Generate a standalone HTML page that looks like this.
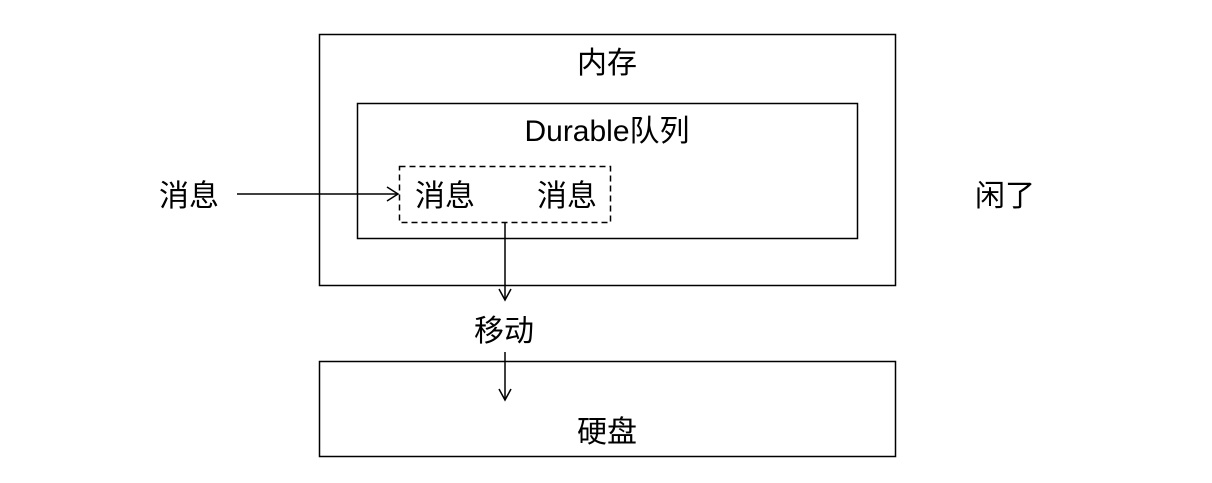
<!DOCTYPE html>
<html><head><meta charset="utf-8"><style>
body{margin:0;background:#fff;}
svg text{font-family:"Liberation Sans","Noto Sans CJK SC",sans-serif;font-size:30px;fill:#000;text-anchor:middle;}
</style></head><body>
<svg width="1212" height="478" xmlns="http://www.w3.org/2000/svg">
<g fill="none" stroke="#000" stroke-width="1.5">
<rect x="319.5" y="34.5" width="576" height="251"/>
<rect x="357.5" y="103.5" width="500" height="135"/>
<rect x="399.5" y="166.5" width="211" height="56" stroke-dasharray="6,4"/>
<rect x="319.5" y="361.5" width="576" height="95"/>
<line x1="237" y1="194" x2="398" y2="194"/>
<polyline points="387,187 398,194 387,201"/>
<line x1="505" y1="222" x2="505" y2="300"/>
<polyline points="499,289 505,300 511,289"/>
<line x1="505" y1="352" x2="505" y2="400"/>
<polyline points="499,389 505,400 511,389"/>
</g>
<text x="607" y="73">内存</text>
<text x="607" y="141">Durable队列</text>
<text x="445" y="206">消息</text>
<text x="567" y="206">消息</text>
<text x="189" y="206">消息</text>
<text x="1005" y="206">闲了</text>
<text x="504" y="341">移动</text>
<text x="607" y="442">硬盘</text>
</svg>
</body></html>
